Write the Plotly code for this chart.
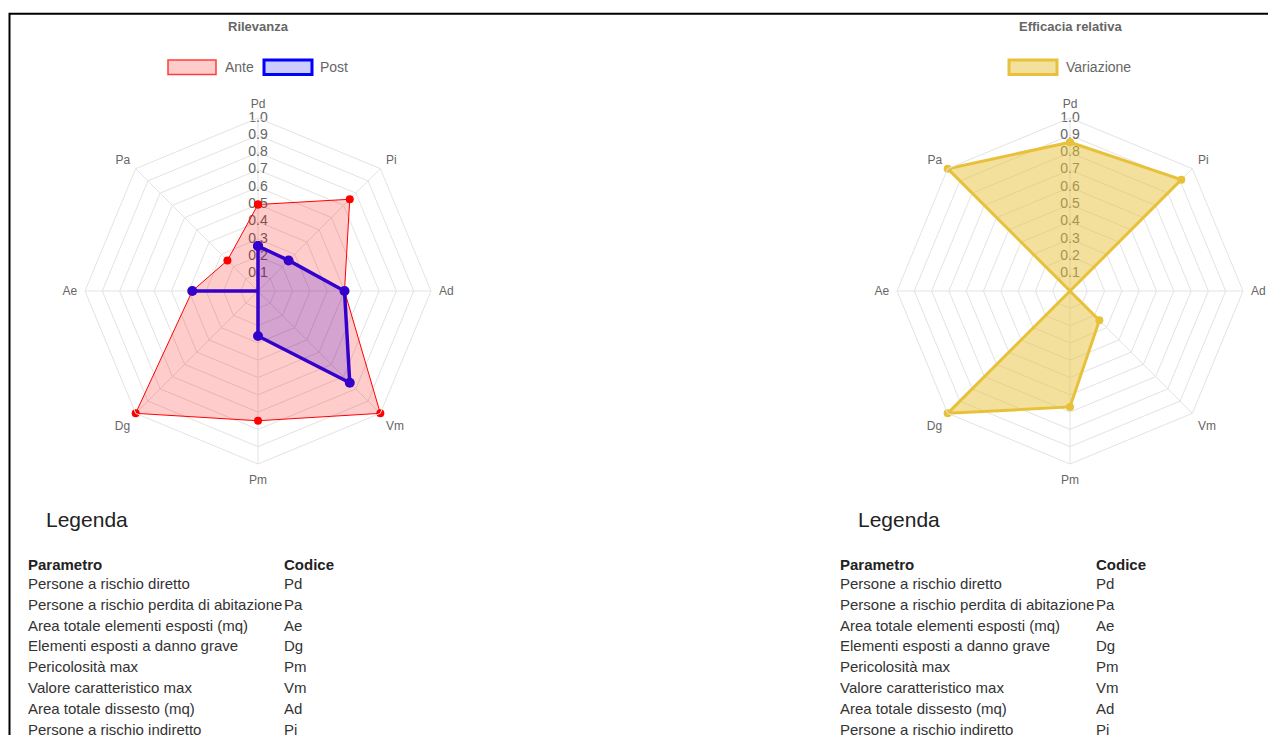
import plotly.graph_objects as go

W, H = 1268, 735

categories = ["Pd", "Pi", "Ad", "Vm", "Pm", "Dg", "Ae", "Pa"]
ante = [0.5, 0.75, 0.5, 1.0, 0.75, 1.0, 0.38, 0.25]
post = [0.26, 0.25, 0.5, 0.75, 0.26, 0.0, 0.38, 0.0]
variazione = [0.86, 0.91, 0.0, 0.24, 0.67, 1.0, 0.0, 1.0]
tick_values = [0.1, 0.2, 0.3, 0.4, 0.5, 0.6, 0.7, 0.8, 0.9, 1.0]
tick_labels = ["0.1", "0.2", "0.3", "0.4", "0.5", "0.6", "0.7", "0.8", "0.9", "1.0"]

param_names = [
    "Persone a rischio diretto",
    "Persone a rischio perdita di abitazione",
    "Area totale elementi esposti (mq)",
    "Elementi esposti a danno grave",
    "Pericolosità max",
    "Valore caratteristico max",
    "Area totale dissesto (mq)",
    "Persone a rischio indiretto",
]
param_codes = ["Pd", "Pa", "Ae", "Dg", "Pm", "Vm", "Ad", "Pi"]

FONT = "Liberation Sans, Arial, sans-serif"
GRID = "#e3e3e3"
TXT = "#666666"


def px(x):
    return x / W


def py(y):
    return 1 - y / H


def close(v):
    return list(v) + [v[0]]


fig = go.Figure()

# radial tick labels (drawn first so fills cover them)
for sp in ["polar", "polar2"]:
    fig.add_trace(go.Scatterpolar(
        r=tick_values, theta=[categories[0]] * len(tick_values),
        mode="text", text=tick_labels,
        textfont=dict(family=FONT, size=14, color=TXT),
        showlegend=False, hoverinfo="skip", subplot=sp,
    ))

series = [
    dict(r=ante, name="Ante", sp="polar", line="rgb(255,0,0)", lw=1,
         fill="rgba(255,0,0,0.2)", ms=8),
    dict(r=post, name="Post", sp="polar", line="#3300cc", lw=3.5,
         fill="rgba(40,0,220,0.2)", ms=10),
    dict(r=variazione, name="Variazione", sp="polar2", line="#e8c13a", lw=3,
         fill="rgba(232,193,58,0.5)", ms=8),
]
for s in series:
    fig.add_trace(go.Scatterpolar(
        r=close(s["r"]), theta=close(categories), name=s["name"],
        mode="lines+markers", fill="toself", fillcolor=s["fill"],
        line=dict(color=s["line"], width=s["lw"]),
        marker=dict(color=s["line"], size=s["ms"]),
        subplot=s["sp"], showlegend=False,
    ))

R = 173
CY = 291


def polar_layout(cx):
    return dict(
        domain=dict(x=[px(cx - R), px(cx + R)], y=[py(CY + R), py(CY - R)]),
        gridshape="linear",
        bgcolor="white",
        radialaxis=dict(range=[0, 1], dtick=0.1, showticklabels=False,
                        ticks="", showline=False, gridcolor=GRID, gridwidth=1),
        angularaxis=dict(direction="clockwise", rotation=90,
                         categoryorder="array", categoryarray=categories,
                         gridcolor=GRID, showline=True, linecolor=GRID,
                         ticks="outside", ticklen=5, tickcolor="rgba(0,0,0,0)",
                         tickfont=dict(family=FONT, size=12, color=TXT)),
    )


def text_ann(text, x, y, size, color, xanchor="left"):
    return dict(text=text, x=px(x), y=py(y), xref="paper", yref="paper",
                xanchor=xanchor, yanchor="middle", showarrow=False,
                font=dict(family=FONT, size=size, color=color))


ann = []
shapes = []
ann.append(text_ann("<b>Rilevanza</b>", 258, 27, 13, TXT, "center"))
ann.append(text_ann("<b>Efficacia relativa</b>", 1070, 27, 13, TXT, "center"))

# legend boxes (Chart.js style)
legend_items = [
    ("Ante", 168, "rgb(255,60,60)", 1.5, "rgba(255,0,0,0.2)", 223),
    ("Post", 264, "rgb(0,0,255)", 3, "rgba(0,0,255,0.2)", 318),
    ("Variazione", 1009, "#e8c13a", 3, "rgba(232,193,58,0.5)", 1064),
]
for name, bx, lc, lw, fc, tx in legend_items:
    shapes.append(dict(type="rect", xref="paper", yref="paper",
                       x0=px(bx), x1=px(bx + 48), y0=py(74.5), y1=py(60),
                       line=dict(color=lc, width=lw), fillcolor=fc))
    ann.append(text_ann(name, tx, 67, 14, TXT))

for off in [0, 812]:
    ann.append(text_ann("Legenda", 44 + off, 519, 21, "#222222"))
    ann.append(text_ann("<b>Parametro</b>", 26 + off, 564, 15, "#222222"))
    ann.append(text_ann("<b>Codice</b>", 282 + off, 564, 15, "#222222"))
    for i, (nm, cd) in enumerate(zip(param_names, param_codes)):
        yy = 583.5 + i * 20.8
        ann.append(text_ann(nm, 26 + off, yy, 15, "#333333"))
        ann.append(text_ann(cd, 282 + off, yy, 15, "#333333"))

shapes.append(dict(type="rect", xref="paper", yref="paper",
                   x0=px(9.5), x1=1.02, y0=-0.02, y1=py(13.8),
                   line=dict(color="black", width=2), fillcolor="rgba(0,0,0,0)"))

fig.update_layout(
    width=W, height=H,
    margin=dict(l=0, r=0, t=0, b=0),
    paper_bgcolor="white",
    font=dict(family=FONT, color=TXT),
    polar=polar_layout(258),
    polar2=polar_layout(1070),
    annotations=ann,
    shapes=shapes,
    showlegend=False,
)

fig.write_html("out.html", default_width=f"{W}px", default_height=f"{H}px",
               config={"displayModeBar": False},
               post_script="document.body.style.margin='0';document.body.style.overflow='hidden';")
